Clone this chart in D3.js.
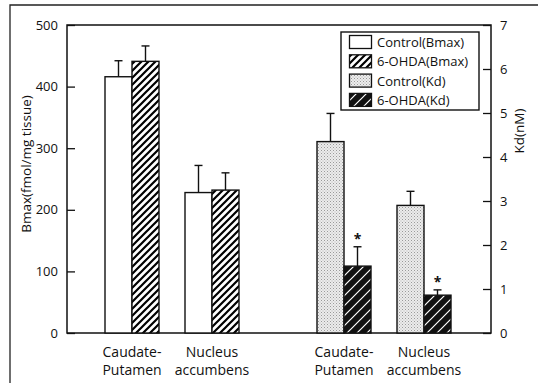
<!DOCTYPE html>
<html><head><meta charset="utf-8">
<script src="https://cdn.jsdelivr.net/npm/d3@7"></script>
<style>
body{margin:0;background:#fff;}
svg{display:block;font-family:"Open Sans",sans-serif;}
</style></head>
<body><div id="chart"></div>
<script>
// ---- data ----
const regions = ["Caudate-Putamen", "Nucleus accumbens"];
const regionLines = [["Caudate-", "Putamen"], ["Nucleus", "accumbens"]];
const bmaxControlMean = [416, 228];
const bmaxControlErr = [26, 44];
const bmaxOhdaMean = [441, 232];
const bmaxOhdaErr = [25, 28];
const kdControlMean = [4.35, 2.9];
const kdControlErr = [0.64, 0.32];
const kdOhdaMean = [1.52, 0.86];
const kdOhdaErr = [0.44, 0.12];
const kdOhdaSig = [true, true];
const leftTicks = [0, 100, 200, 300, 400, 500];
const rightTicks = [0, 1, 2, 3, 4, 5, 6, 7];
const legendLabels = ["Control(Bmax)", "6-OHDA(Bmax)", "Control(Kd)", "6-OHDA(Kd)"];

const W = 538, H = 383;
const M = {left: 67, right: 491, top: 25, bottom: 333};

const svg = d3.select("#chart").append("svg").attr("width", W).attr("height", H);
const defs = svg.append("defs");

// patterns
const pB = defs.append("pattern").attr("id", "hatchB").attr("patternUnits", "userSpaceOnUse")
  .attr("width", 7).attr("height", 7);
pB.append("rect").attr("width", 7).attr("height", 7).attr("fill", "#fff");
pB.append("path").attr("d", "M-1,1 L1,-1 M0,7 L7,0 M6,8 L8,6").attr("stroke", "#000").attr("stroke-width", 2.2);

const pK = defs.append("pattern").attr("id", "hatchK").attr("patternUnits", "userSpaceOnUse")
  .attr("width", 10).attr("height", 10);
pK.append("rect").attr("width", 10).attr("height", 10).attr("fill", "#111");
pK.append("path").attr("d", "M-1,1 L1,-1 M0,10 L10,0 M9,11 L11,9").attr("stroke", "#fff").attr("stroke-width", 1.2);

const pD = defs.append("pattern").attr("id", "dots").attr("patternUnits", "userSpaceOnUse")
  .attr("width", 3).attr("height", 3);
pD.append("rect").attr("width", 3).attr("height", 3).attr("fill", "#ececec");
pD.append("rect").attr("width", 1).attr("height", 1).attr("fill", "#9a9a9a");
pD.append("rect").attr("x", 1.5).attr("y", 1.5).attr("width", 1).attr("height", 1).attr("fill", "#b5b5b5");

const fills = ["#fff", "url(#hatchB)", "url(#dots)", "url(#hatchK)"];

// outer frame (top & left only)
svg.append("path").attr("d", `M10,${H} L10,5 L${W},5`).attr("fill", "none").attr("stroke", "#222").attr("stroke-width", 1.3);

// scales
const yL = d3.scaleLinear().domain([0, 500]).range([M.bottom, M.top]);
const yR = d3.scaleLinear().domain([0, 7]).range([M.bottom, M.top]);
const panels = ["Bmax", "Kd"];
const xPanel = d3.scaleBand().domain(panels).range([M.left, M.right]).padding(0);
const xRegion = d3.scalePoint().domain(regions).range([65, 145]);
const barW = 27;

// plot frame
svg.append("rect").attr("x", M.left).attr("y", M.top).attr("width", M.right - M.left)
  .attr("height", M.bottom - M.top).attr("fill", "none").attr("stroke", "#111").attr("stroke-width", 1.5);

// axes
const axL = d3.axisLeft(yL).tickValues(leftTicks).tickFormat(d3.format("d"))
  .tickSizeInner(-8).tickSizeOuter(0).tickPadding(9);
const gL = svg.append("g").attr("transform", `translate(${M.left},0)`).call(axL);
const axR = d3.axisRight(yR).tickValues(rightTicks).tickFormat(d3.format("d"))
  .tickSizeInner(-8).tickSizeOuter(0).tickPadding(9);
const gR = svg.append("g").attr("transform", `translate(${M.right},0)`).call(axR);
[gL, gR].forEach(g => {
  g.select(".domain").remove();
  g.selectAll(".tick line").attr("stroke", "#111").attr("stroke-width", 1.3);
  g.selectAll(".tick text").attr("font-size", 13).attr("fill", "#111").attr("font-family", "Open Sans, sans-serif");
});

// axis titles
svg.append("text").attr("transform", "translate(31,164) rotate(-90)").attr("text-anchor", "middle")
  .attr("font-size", 13.5).attr("fill", "#111").text("Bmax(fmol/mg tissue)");
svg.append("text").attr("transform", "translate(524,131) rotate(-90)").attr("text-anchor", "middle")
  .attr("font-size", 13.5).attr("fill", "#111").text("Kd(nM)");

// series
const series = [
  {panel: "Bmax", y: yL, mean: bmaxControlMean, err: bmaxControlErr, fill: fills[0], off: -1, sig: null},
  {panel: "Bmax", y: yL, mean: bmaxOhdaMean, err: bmaxOhdaErr, fill: fills[1], off: 0, sig: null},
  {panel: "Kd", y: yR, mean: kdControlMean, err: kdControlErr, fill: fills[2], off: -1, sig: null},
  {panel: "Kd", y: yR, mean: kdOhdaMean, err: kdOhdaErr, fill: fills[3], off: 0, sig: kdOhdaSig},
];

series.forEach(s => {
  regions.forEach((r, i) => {
    const x0 = xPanel(s.panel) + xRegion(r) + s.off * barW;
    const cx = x0 + barW / 2;
    const yTop = s.y(s.mean[i]);
    const yErr = s.y(s.mean[i] + s.err[i]);
    svg.append("line").attr("x1", cx).attr("x2", cx).attr("y1", yTop).attr("y2", yErr)
      .attr("stroke", "#111").attr("stroke-width", 1.4);
    svg.append("line").attr("x1", cx - 4).attr("x2", cx + 4).attr("y1", yErr).attr("y2", yErr)
      .attr("stroke", "#111").attr("stroke-width", 1.4);
    svg.append("rect").attr("x", x0).attr("y", yTop).attr("width", barW).attr("height", M.bottom - yTop)
      .attr("fill", s.fill).attr("stroke", "#111").attr("stroke-width", 1.4);
    if (s.sig && s.sig[i]) {
      svg.append("text").attr("x", cx).attr("y", yErr - 3).attr("text-anchor", "middle")
        .attr("font-size", 14).attr("font-weight", "bold").attr("fill", "#111").text("*");
    }
  });
});

// category labels
panels.forEach(p => {
  regions.forEach((r, i) => {
    const cx = xPanel(p) + xRegion(r);
    const t = svg.append("text").attr("text-anchor", "middle").attr("font-size", 14).attr("fill", "#111");
    regionLines[i].forEach((ln, k) => {
      t.append("tspan").attr("x", cx).attr("y", 357 + k * 18).text(ln);
    });
  });
});

// legend
const lg = svg.append("g");
lg.append("rect").attr("x", 341).attr("y", 32).attr("width", 138).attr("height", 78)
  .attr("fill", "#fff").attr("stroke", "#111").attr("stroke-width", 1.4);
legendLabels.forEach((lab, i) => {
  const cy = 42 + i * 19.3;
  lg.append("rect").attr("x", 349.5).attr("y", cy - 6.5).attr("width", 22).attr("height", 13)
    .attr("fill", fills[i]).attr("stroke", "#111").attr("stroke-width", 1.3);
  lg.append("text").attr("x", 377).attr("y", cy + 5).attr("font-size", 13).attr("fill", "#111").text(lab);
});
</script>
</body></html>
